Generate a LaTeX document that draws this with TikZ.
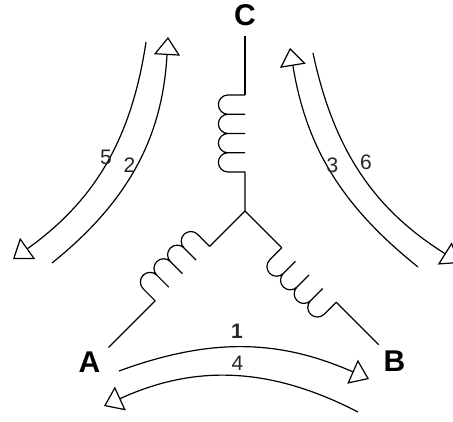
\documentclass[tikz,border=0pt]{standalone}
\usepackage{fontspec}
\setmainfont{Liberation Sans}
\usetikzlibrary{calc, arrows.meta}

\begin{document}
\begin{tikzpicture}[x=1pt, y=1pt, line width=1.2pt,
    flow/.style={-{Triangle[open, length=18pt, width=26pt]}},
    phase/.style={font=\fontsize{30}{30}\selectfont\bfseries, inner sep=0pt},
    numlabel/.style={font=\fontsize{21}{21}\selectfont, text=black!85, inner sep=0pt}]

    \useasboundingbox (0,0) rectangle (453,421);

    % star point and the three arms
    \coordinate (O) at (245,210);
    \coordinate (Cend) at ($(O)+(90:175)$);
    \coordinate (Aend) at ($(O)+(225:193)$);
    \coordinate (Bend) at ($(O)+(315:189)$);
    \coordinate (C1) at ($(O)+(90:39)$);
    \coordinate (C2) at ($(O)+(90:116)$);
    \coordinate (A1) at ($(O)+(225:50)$);
    \coordinate (A2) at ($(O)+(225:127)$);
    \coordinate (B1) at ($(O)+(315:52)$);
    \coordinate (B2) at ($(O)+(315:129)$);

    \draw (Cend) -- (C2);
    \draw (C1) -- (O) -- (A1);
    \draw (A2) -- (Aend);
    \draw (O) -- (B1);
    \draw (B2) -- (Bend);

    % windings
    \begin{scope}[shift={(C1)}, rotate=90]
        \draw (0,0) foreach \i in {0,...,3} {-- (\i*19.25,17) arc (180:0:9.625) -- ++(0,-17)};
    \end{scope}
    \begin{scope}[shift={(A2)}, rotate=45]
        \draw (0,0) foreach \i in {0,...,3} {-- (\i*19.25,17) arc (180:0:9.625) -- ++(0,-17)};
    \end{scope}
    \begin{scope}[shift={(B2)}, rotate=135]
        \draw (0,0) foreach \i in {0,...,3} {-- (\i*19.25,17) arc (180:0:9.625) -- ++(0,-17)};
    \end{scope}

    \node[phase] (C) at (245,406) {C};
    \node[phase] (A) at (89.5,59) {A};
    \node[phase] (B) at (394.5,60) {B};

    % current arrows
    \coordinate (f1s) at (119,50);  \coordinate (f1e) at (369,42);
    \coordinate (f4s) at (358,9);   \coordinate (f4e) at (104,15);
    \coordinate (f2s) at (52,158);  \coordinate (f2e) at (168,384);
    \coordinate (f5s) at (146,379); \coordinate (f5e) at (13,162);
    \coordinate (f3s) at (418,154); \coordinate (f3e) at (290,373);
    \coordinate (f6s) at (313,368); \coordinate (f6e) at (460,158);

    \draw[flow] (f1s) to[bend left=22] (f1e);
    \draw[flow] (f4s) to[bend right=26] (f4e);
    \draw[flow] (f2s) to[bend right=24] (f2e);
    \draw[flow] (f5s) to[bend left=23] (f5e);
    \draw[flow] (f3s) to[bend left=21] (f3e);
    \draw[flow] (f6s) to[bend right=23] (f6e);

    \node[numlabel] (n1) at (237,90) {\bfseries 1};
    \node[numlabel] (n4) at (237.5,58) {4};
    \node[numlabel] (n5) at (106,264) {5};
    \node[numlabel] (n2) at (129.5,256) {2};
    \node[numlabel] (n3) at (332.5,256) {3};
    \node[numlabel] (n6) at (366,259) {6};

\end{tikzpicture}
\end{document}
